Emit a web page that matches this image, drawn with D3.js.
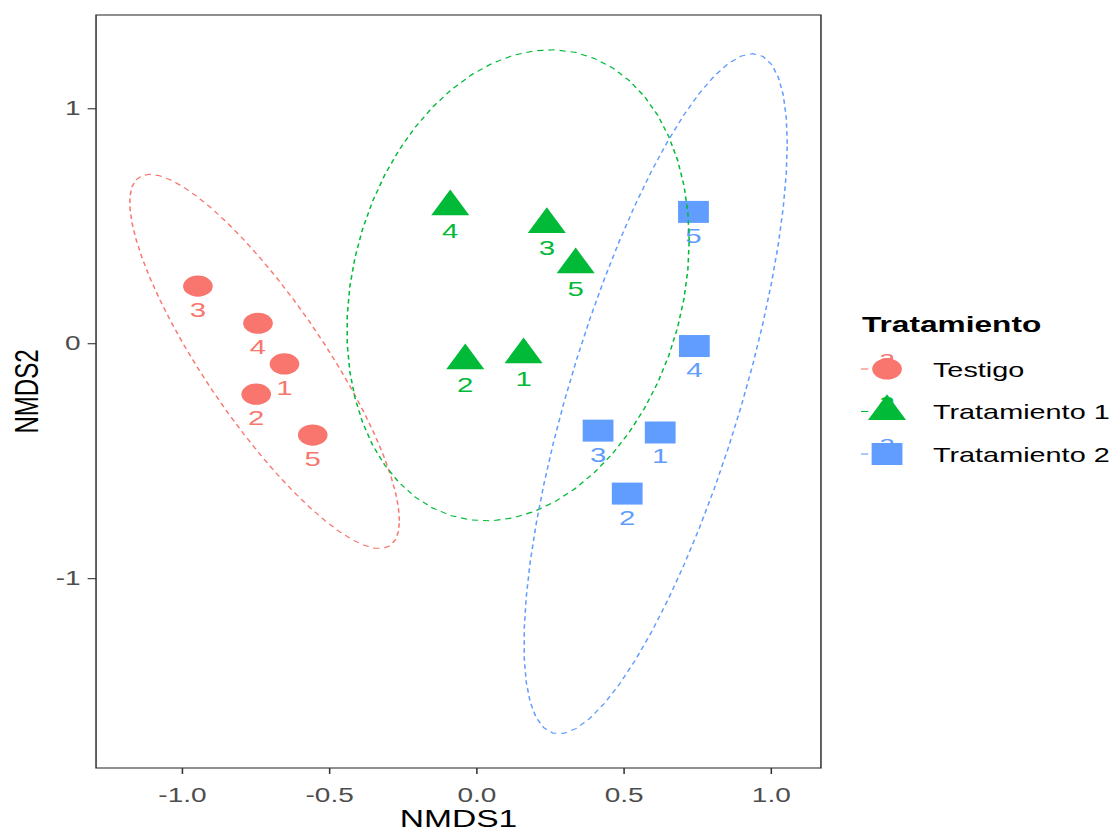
<!DOCTYPE html>
<html>
<head>
<meta charset="utf-8">
<script src="https://cdn.jsdelivr.net/npm/d3@7"></script>
<style>
  html, body { margin: 0; padding: 0; background: #fff; }
  #chart { width: 1114px; height: 833px; }
  svg { display: block; }
</style>
</head>
<body>
<div id="chart"></div>
<script>
// datos NMDS
const groups = ['Testigo', 'Tratamiento 1', 'Tratamiento 2'];
const sampleLabels = ['1', '2', '3', '4', '5'];
const testigoNMDS1 = [-0.651, -0.747, -0.945, -0.741, -0.555];
const testigoNMDS2 = [-0.088, -0.217, 0.243, 0.085, -0.391];
const trat1NMDS1 = [0.161, -0.037, 0.240, -0.088, 0.338];
const trat1NMDS2 = [-0.049, -0.074, 0.506, 0.581, 0.334];
const trat2NMDS1 = [0.625, 0.513, 0.414, 0.741, 0.738];
const trat2NMDS2 = [-0.380, -0.640, -0.372, -0.012, 0.559];
const xTicks = [-1.0, -0.5, 0.0, 0.5, 1.0];
const yTicks = [-1, 0, 1];
const xLimits = [-1.291, 1.171];
const yLimits = [-1.808, 1.397];
const groupColors = ['#F8766D', '#00BA38', '#619CFF'];
const groupShapes = ['circle', 'triangle', 'square'];

class NmdsPlot {
  constructor(id) {
    this.id = id;
    this.width = 1114;
    this.height = 833;
    // the picture is stretched horizontally
    this.stretch = 1.4;
    this.vbWidth = this.width / this.stretch;
    this.margin = { top: 15, right: this.vbWidth - 586.4, bottom: 833 - 768, left: 68.6 };
    this.font = "'Liberation Sans', Arial, sans-serif";
    this.level = 0.95;
    this.init();
  }
  init() {
    this.buildData();
    this.initSvg();
    this.initScale();
    this.initAxis();
    this.drawPoints();
    this.drawEllipses();
    this.drawLegend();
  }
  buildData() {
    const cols = [
      [testigoNMDS1, testigoNMDS2],
      [trat1NMDS1, trat1NMDS2],
      [trat2NMDS1, trat2NMDS2]
    ];
    this.series = groups.map((g, i) => ({
      name: g,
      color: groupColors[i],
      shape: groupShapes[i],
      points: cols[i][0].map((x, j) => ({ x, y: cols[i][1][j], label: sampleLabels[j] }))
    }));
  }
  initSvg() {
    this.svg = d3.select(`#${this.id}`)
      .append('svg')
      .attr('width', this.width)
      .attr('height', this.height)
      .attr('viewBox', `0 0 ${this.vbWidth} ${this.height}`)
      .attr('preserveAspectRatio', 'none')
      .style('background', '#fff');
    this.innerWidth = this.vbWidth - this.margin.left - this.margin.right;
    this.innerHeight = this.height - this.margin.top - this.margin.bottom;
    this.mg = this.svg.append('g')
      .attr('transform', `translate(${this.margin.left},${this.margin.top})`);
  }
  initScale() {
    this.xScale = d3.scaleLinear().domain(xLimits).range([0, this.innerWidth]);
    this.yScale = d3.scaleLinear().domain(yLimits).range([this.innerHeight, 0]);
  }
  initAxis() {
    const xAxis = this.mg.append('g')
      .attr('transform', `translate(0,${this.innerHeight})`)
      .call(d3.axisBottom(this.xScale)
        .tickValues(xTicks)
        .tickFormat(d => d.toFixed(1))
        .tickSize(6)
        .tickPadding(13.8));
    const yAxis = this.mg.append('g')
      .call(d3.axisLeft(this.yScale)
        .tickValues(yTicks)
        .tickFormat(d => String(d))
        .tickSize(6)
        .tickPadding(5));
    [xAxis, yAxis].forEach(ax => {
      ax.select('.domain').remove();
      ax.selectAll('line').attr('stroke', '#333333').attr('stroke-width', 1.1);
      ax.selectAll('text')
        .attr('fill', '#4d4d4d')
        .attr('font-family', this.font)
        .attr('font-size', 20);
    });
    // borde del panel
    this.mg.append('rect')
      .attr('width', this.innerWidth)
      .attr('height', this.innerHeight)
      .attr('fill', 'none')
      .attr('stroke', '#333333')
      .attr('stroke-width', 1.1);
    // títulos
    this.svg.append('text')
      .attr('x', this.margin.left + this.innerWidth / 2)
      .attr('y', 827)
      .attr('text-anchor', 'middle')
      .attr('font-family', this.font)
      .attr('font-size', 24)
      .text('NMDS1');
    this.svg.append('text')
      .attr('transform', `translate(27,${this.margin.top + this.innerHeight / 2}) rotate(-90)`)
      .attr('text-anchor', 'middle')
      .attr('font-family', this.font)
      .attr('font-size', 24)
      .text('NMDS2');
  }
  markerPath(shape) {
    if (shape === 'circle') {
      const r = 10.6;
      return `M${-r},0A${r},${r} 0 1 0 ${r},0A${r},${r} 0 1 0 ${-r},0Z`;
    }
    if (shape === 'square') {
      const h = 11;
      return `M${-h},${-h}H${h}V${h}H${-h}Z`;
    }
    const w = 13.6, ht = 25.7;
    return `M0,${-ht * 2 / 3}L${w},${ht / 3}L${-w},${ht / 3}Z`;
  }
  drawPoints() {
    const g = this.mg.append('g');
    this.series.forEach(s => {
      g.selectAll(null)
        .data(s.points)
        .join('path')
        .attr('d', this.markerPath(s.shape))
        .attr('transform', d => `translate(${this.xScale(d.x)},${this.yScale(d.y)})`)
        .attr('fill', s.color);
    });
    // etiquetas (nudge_y = -0.1)
    this.series.forEach(s => {
      g.selectAll(null)
        .data(s.points)
        .join('text')
        .attr('x', d => this.xScale(d.x))
        .attr('y', d => this.yScale(d.y - 0.1) + 7.5)
        .attr('text-anchor', 'middle')
        .attr('font-family', this.font)
        .attr('font-size', 21)
        .attr('fill', s.color)
        .text(d => d.label);
    });
  }
  // MASS::cov.trob para 2 columnas
  covTrob(pts) {
    const n = pts.length, p = 2, nu = 5, tol = 0.01;
    let loc = [d3.mean(pts, d => d[0]), d3.mean(pts, d => d[1])];
    let w = pts.map(() => 1);
    let X = [];
    for (let iter = 0; iter < 25; iter++) {
      const w0 = w.slice();
      X = pts.map(d => [d[0] - loc[0], d[1] - loc[1]]);
      const sw = d3.sum(w);
      const a = d3.sum(X, (d, i) => w[i] * d[0] * d[0]) / sw;
      const b = d3.sum(X, (d, i) => w[i] * d[0] * d[1]) / sw;
      const c = d3.sum(X, (d, i) => w[i] * d[1] * d[1]) / sw;
      const det = a * c - b * b;
      const Q = X.map(d => (c * d[0] * d[0] - 2 * b * d[0] * d[1] + a * d[1] * d[1]) / det);
      w = Q.map(q => (nu + p) / (nu + q));
      const sw2 = d3.sum(w);
      loc = [d3.sum(pts, (d, i) => w[i] * d[0]) / sw2, d3.sum(pts, (d, i) => w[i] * d[1]) / sw2];
      if (w.every((v, i) => Math.abs(v - w0[i]) < tol)) break;
    }
    const cov = [
      d3.sum(X, (d, i) => w[i] * d[0] * d[0]) / n,
      d3.sum(X, (d, i) => w[i] * d[0] * d[1]) / n,
      d3.sum(X, (d, i) => w[i] * d[1] * d[1]) / n
    ];
    return { center: loc, cov };
  }
  ellipsePoints(points) {
    const { center, cov } = this.covTrob(points.map(d => [d.x, d.y]));
    const dfd = points.length - 1;
    // qf(level, 2, dfd)
    const fq = dfd / 2 * (Math.pow(1 - this.level, -2 / dfd) - 1);
    const radius = Math.sqrt(2 * fq);
    const r11 = Math.sqrt(cov[0]);
    const r12 = cov[1] / r11;
    const r22 = Math.sqrt(cov[2] - r12 * r12);
    return d3.range(52).map(k => {
      const t = k * 2 * Math.PI / 51;
      return [center[0] + radius * Math.cos(t) * r11,
              center[1] + radius * (Math.cos(t) * r12 + Math.sin(t) * r22)];
    });
  }
  drawEllipses() {
    const line = d3.line()
      .x(d => this.xScale(d[0]))
      .y(d => this.yScale(d[1]));
    const g = this.mg.append('g');
    this.series.forEach(s => {
      g.append('path')
        .attr('d', line(this.ellipsePoints(s.points)))
        .attr('fill', 'none')
        .attr('stroke', s.color)
        .attr('stroke-width', 1.1)
        .attr('stroke-dasharray', '4.5,3.5');
    });
  }
  drawLegend() {
    const lg = this.svg.append('g');
    lg.append('text')
      .attr('x', 615.7)
      .attr('y', 332)
      .attr('font-family', this.font)
      .attr('font-weight', 'bold')
      .attr('font-size', 22.6)
      .text('Tratamiento');
    const rowY = [369, 411.5, 454];
    const keyX = 633.6;
    this.series.forEach((s, i) => {
      const row = lg.append('g').attr('transform', `translate(${keyX},${rowY[i]})`);
      row.append('line')
        .attr('x1', -18.6).attr('x2', -13.4)
        .attr('stroke', s.color).attr('stroke-width', 1.1);
      row.append('text')
        .attr('y', -4)
        .attr('text-anchor', 'middle')
        .attr('font-family', this.font)
        .attr('font-size', 21)
        .attr('fill', s.color)
        .text('a');
      row.append('path')
        .attr('d', this.markerPath(s.shape))
        .attr('fill', s.color);
      row.append('text')
        .attr('x', 666.4 - keyX)
        .attr('y', 7.7)
        .attr('font-family', this.font)
        .attr('font-size', 20.6)
        .attr('fill', '#000')
        .text(s.name);
    });
  }
}

new NmdsPlot('chart');
</script>
</body>
</html>
